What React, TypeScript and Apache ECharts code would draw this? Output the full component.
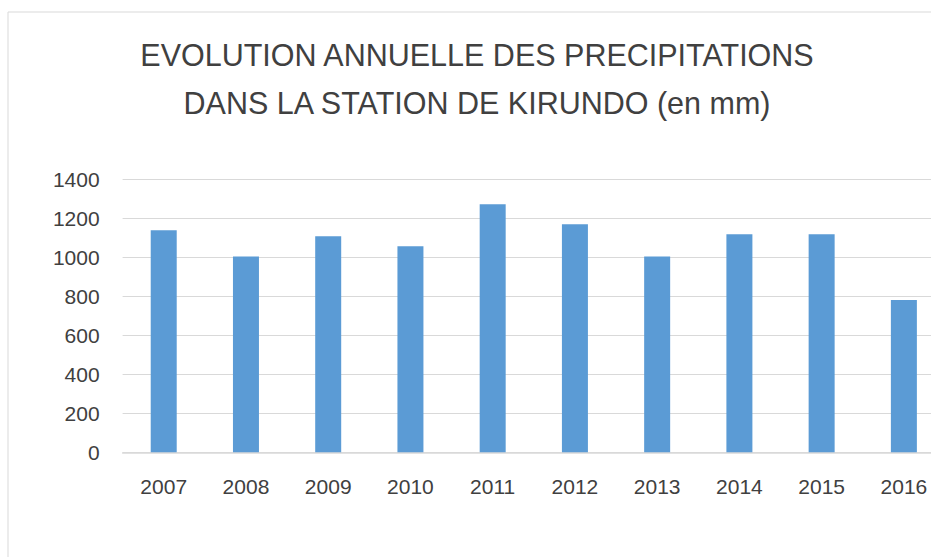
import React, { useEffect, useRef } from "react";
import * as echarts from "echarts";

const years = ["2007", "2008", "2009", "2010", "2011", "2012", "2013", "2014", "2015", "2016"];
const precipitation = [1140, 1005, 1110, 1058, 1274, 1171, 1005, 1120, 1120, 782];
const titleLines = ["EVOLUTION ANNUELLE DES PRECIPITATIONS", "DANS LA STATION DE KIRUNDO (en mm)"];

const W = 954;
const H = 600;

export default function App() {
  const ref = useRef<HTMLDivElement>(null);
  useEffect(() => {
    if (!ref.current) return;
    const chart = echarts.init(ref.current, null, { renderer: "svg" });
    chart.setOption({
      animation: false,
      backgroundColor: "#ffffff",
      title: {
        text: titleLines.join("\n"),
        left: "center",
        top: 31,
        padding: 0,
        textStyle: {
          fontFamily: "Liberation Sans",
          fontSize: 30.5,
          fontWeight: "normal",
          color: "#404040",
          lineHeight: 48,
        },
      },
      graphic: [
        {
          type: "rect",
          shape: { x: 8, y: 12, width: 938, height: 580 },
          style: { fill: "none", stroke: "#d9d9d9", lineWidth: 1 },
          silent: true,
          z: -1,
        },
      ],
      grid: { left: 122.6, right: 9, top: 179.7, bottom: H - 452.3 },
      xAxis: {
        type: "category",
        data: years,
        axisTick: { show: false },
        axisLine: { lineStyle: { color: "#d9d9d9", width: 1.5 } },
        axisLabel: {
          fontFamily: "Liberation Sans",
          fontSize: 21,
          color: "#404040",
          margin: 24,
        },
      },
      yAxis: {
        type: "value",
        min: 0,
        max: 1400,
        interval: 200,
        axisLine: { show: false },
        axisTick: { show: false },
        splitLine: { lineStyle: { color: "#d9d9d9", width: 1 } },
        axisLabel: {
          fontFamily: "Liberation Sans",
          fontSize: 21,
          color: "#404040",
          margin: 23,
          formatter: (v: number) => String(v),
        },
      },
      series: [
        {
          type: "bar",
          data: precipitation,
          barWidth: 26,
          itemStyle: { color: "#5b9bd5" },
        },
      ],
    });
    return () => chart.dispose();
  }, []);
  return (
    <div
      style={{
        position: "absolute",
        left: 0,
        top: 0,
        width: 931,
        height: 557,
        overflow: "hidden",
        background: "#ffffff",
      }}
    >
      <div ref={ref} style={{ width: W, height: H }} />
    </div>
  );
}
